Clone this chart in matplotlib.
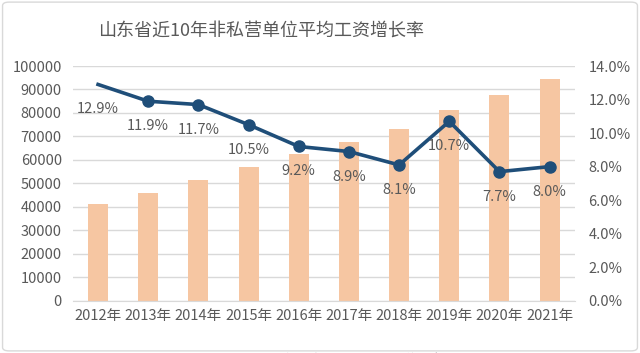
import numpy as np
import matplotlib.pyplot as plt
from matplotlib.patches import FancyBboxPatch

plt.rcParams['font.family'] = ['Noto Sans CJK SC', 'DejaVu Sans']

# data
years = ['2012年', '2013年', '2014年', '2015年', '2016年',
         '2017年', '2018年', '2019年', '2020年', '2021年']
wages = [41200, 46000, 51400, 57100, 62500, 67600, 73200, 81200, 87600, 94600]
growth = [12.9, 11.9, 11.7, 10.5, 9.2, 8.9, 8.1, 10.7, 7.7, 8.0]
left_ticks = np.arange(0, 100001, 10000)
right_ticks = np.arange(0, 14.01, 2)

text_color = '#595959'
bar_color = '#F6C6A2'
line_color = '#1F4E79'
grid_color = '#D9D9D9'

fig = plt.figure(figsize=(6.4, 3.53), dpi=100)
ax = fig.add_axes([0.114, 0.148, 0.784, 0.665])
x = np.arange(len(years))

ax.bar(x, wages, width=0.4, color=bar_color, label='年平均工资', zorder=2)
ax.set_ylim(0, 100000)
ax.set_yticks(left_ticks)
ax.set_xlim(-0.5, len(years) - 0.5)
ax.set_xticks(x)
ax.set_xticklabels(years)
ax.grid(axis='y', color=grid_color, linewidth=1, zorder=0)
ax.set_axisbelow(True)
for s in ax.spines.values():
    s.set_visible(False)
ax.spines['bottom'].set_visible(True)
ax.spines['bottom'].set_color(grid_color)
ax.tick_params(length=0, colors=text_color, labelsize=10.5)
ax.tick_params(axis='y', pad=8)
ax.tick_params(axis='x', pad=6)

ax2 = ax.twinx()
ax2.plot(x, growth, color=line_color, linewidth=2.6, zorder=3, label='增长率')
# the first point has no marker in the reference
ax2.plot(x[1:], growth[1:], 'o', color=line_color, markersize=8, zorder=4)
ax2.set_ylim(0, 14)
ax2.set_yticks(right_ticks)
ax2.set_yticklabels([f'{v:.1f}%' for v in right_ticks])
for s in ax2.spines.values():
    s.set_visible(False)
ax2.tick_params(length=0, colors=text_color, labelsize=10.5, pad=10)

for xi, g in zip(x, growth):
    ax2.annotate(f'{g:.1f}%', (xi, g), xytext=(0, -18), textcoords='offset points',
                 ha='center', va='center', fontsize=10.5, color=text_color, zorder=5)

fig.text(0.408, 0.912, '山东省近10年非私营单位平均工资增长率', ha='center', va='center',
         fontsize=13, color=text_color)

h1, l1 = ax.get_legend_handles_labels()
h2, l2 = ax2.get_legend_handles_labels()
fig.legend(h1 + h2, l1 + l2, loc='center', bbox_to_anchor=(0.505, -0.02), ncol=2,
           frameon=False, fontsize=10.5, labelcolor=text_color, handlelength=2.5,
           columnspacing=2)

fig.patches.append(FancyBboxPatch((0.004, 0.006), 0.992, 0.988,
                                  boxstyle='round,pad=0,rounding_size=0.01',
                                  transform=fig.transFigure, fill=False,
                                  edgecolor=grid_color, linewidth=1))

fig.savefig('out.png', dpi=100)
